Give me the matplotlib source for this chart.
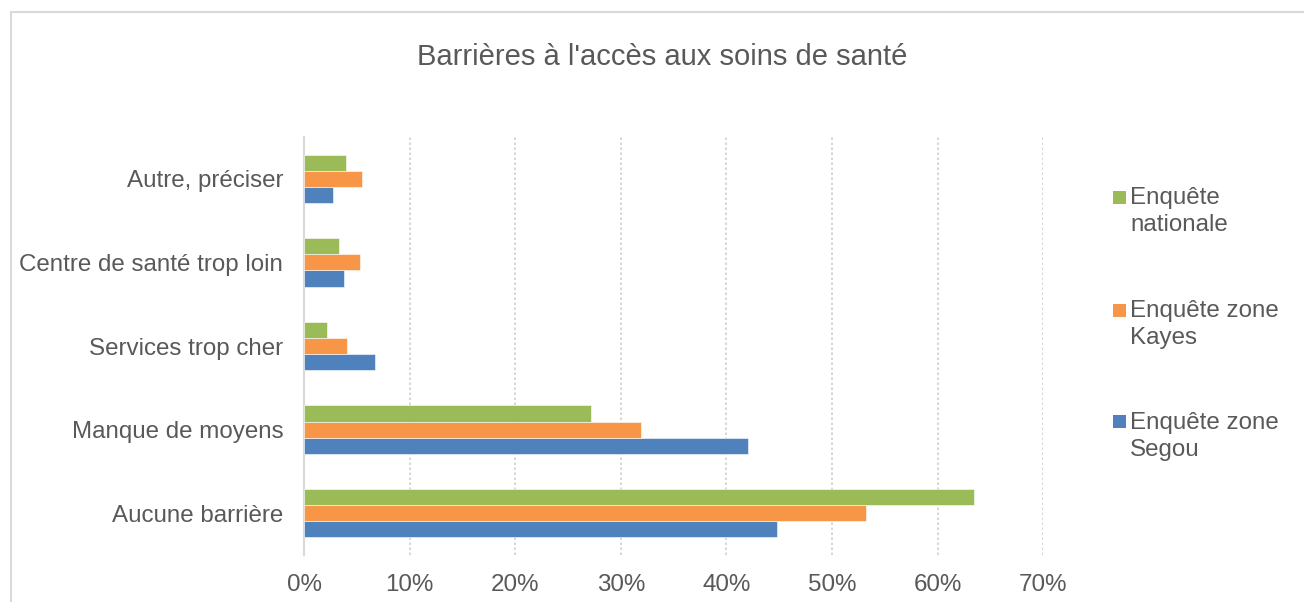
import matplotlib
matplotlib.use("Agg")
import matplotlib.pyplot as plt
from matplotlib.patches import Rectangle
from matplotlib.ticker import FuncFormatter, MultipleLocator
import numpy as np

plt.rcParams['font.family'] = ['Liberation Sans', 'DejaVu Sans']

categories = ["Aucune barrière", "Manque de moyens", "Services trop cher",
              "Centre de santé trop loin", "Autre, préciser"]
segou = [44.8, 42.0, 6.7, 3.8, 2.7]
kayes = [53.2, 31.9, 4.1, 5.3, 5.5]
nationale = [63.4, 27.2, 2.2, 3.3, 4.0]
series_labels = ["Enquête zone\nSegou", "Enquête zone\nKayes", "Enquête\nnationale"]
colors = ["#4F81BD", "#F79646", "#9BBB59"]
title = "Barrières à l'accès aux soins de santé"

W, H = 1304, 602
fig = plt.figure(figsize=(W/100, H/100), dpi=100)
fig.patch.set_facecolor("white")

# chart border (light gray)
fig.add_artist(Rectangle((11/W, -0.1), 1.2, (602-12)/H + 0.1, transform=fig.transFigure,
                         fill=False, edgecolor="#D9D9D9", linewidth=1.5))

ax = fig.add_axes([304/W, (H-555)/H, (1043.3-304)/W, (555-137)/H])
y = np.arange(len(categories))
bh = 0.193
data = [segou, kayes, nationale]
for i, (vals, c) in enumerate(zip(data, colors)):
    ax.barh(y + (i-1)*bh, vals, height=bh, color=c, edgecolor="white", linewidth=0.4, zorder=3)

ax.set_xlim(0, 70)
ax.set_ylim(-0.5, len(categories)-0.5)
ax.xaxis.set_major_locator(MultipleLocator(10))
ax.xaxis.set_major_formatter(FuncFormatter(lambda v, p: f"{int(round(v))}%"))
ax.set_yticks(y)
ax.set_yticklabels(categories)
ax.tick_params(axis='both', length=0, labelsize=17.4, colors="#595959")
ax.tick_params(axis='y', pad=15)
ax.tick_params(axis='x', pad=14)
ax.grid(axis='x', color="#D0D0D0", linestyle=(0, (1.5, 1.5)), linewidth=1.2, zorder=0)
for s in ["top", "right", "bottom"]:
    ax.spines[s].set_visible(False)
ax.spines["left"].set_color("#D9D9D9")
ax.spines["left"].set_linewidth(1.5)

fig.text(662/W, (H-57)/H, title, ha="center", va="center", fontsize=21, color="#595959")

# legend (manual, square at first line)
leg_y = [421.7, 310, 197]
for lab, c, yy in zip(series_labels, colors, leg_y):
    fig.add_artist(Rectangle((1113/W, (H-yy-6.5)/H), 12.5/W, 13/H, transform=fig.transFigure,
                             facecolor=c, edgecolor="none"))
    fig.text(1130/W, (H-yy+10)/H, lab, ha="left", va="top", fontsize=17.4,
             color="#595959", linespacing=1.3)

fig.savefig("out.png", dpi=100)
